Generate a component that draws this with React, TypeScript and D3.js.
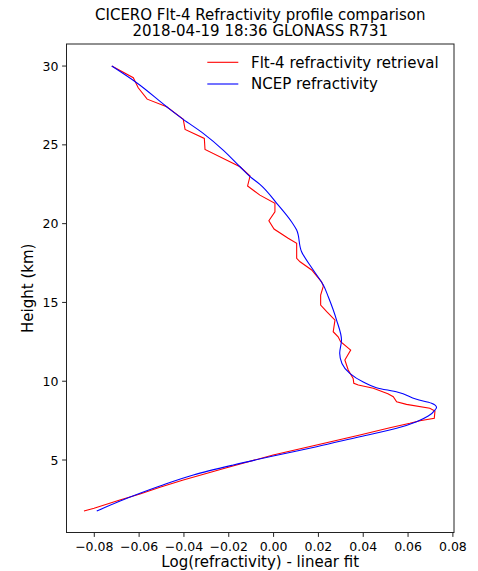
import React from "react";
import * as d3 from "d3";

const titleLines = ["CICERO Flt-4 Refractivity profile comparison", "2018-04-19 18:36 GLONASS R731"];
const seriesNames = ["Flt-4 refractivity retrieval", "NCEP refractivity"];
const seriesColors = ["#ff0000", "#0000ff"];
const xTicks = [-0.08, -0.06, -0.04, -0.02, 0.0, 0.02, 0.04, 0.06, 0.08];
const yTicks = [5, 10, 15, 20, 25, 30];

// Flt-4 retrieval: height (km) and log(refractivity) - linear fit
const retrievalHeight = [
  30.0, 29.26, 28.62, 27.9, 27.42, 26.62, 25.98, 25.41, 24.71, 23.61, 23.02, 22.39, 21.81,
  21.29, 20.75, 20.18, 19.66, 19.07, 18.75, 17.8, 17.58, 17.06, 16.31, 16.04, 15.47, 14.83,
  14.41, 13.88, 13.14, 12.82, 12.51, 11.98, 11.35, 10.71, 10.18, 9.87, 9.76, 9.55, 9.2, 9.02,
  8.7, 8.53, 8.28, 8.11, 7.65, 7.49, 7.33, 7.05, 6.59, 5.95, 5.32, 4.51, 3.73, 3.27, 2.84,
  2.46, 1.94, 1.76,
];
const retrievalValue = [
  -0.0722, -0.0626, -0.0604, -0.0564, -0.0477, -0.0403, -0.0395, -0.0309, -0.0306, -0.015,
  -0.0105, -0.0116, -0.0061, 0.0006, 0.0006, -0.0021, 0.0002, 0.0065, 0.0103, 0.0103, 0.0118,
  0.017, 0.0214, 0.0222, 0.021, 0.021, 0.0237, 0.0274, 0.0266, 0.0288, 0.0299, 0.0344, 0.0318,
  0.0333, 0.0355, 0.0358, 0.0378, 0.0445, 0.051, 0.0534, 0.0549, 0.0593, 0.0697, 0.072, 0.0717,
  0.0653, 0.0608, 0.0519, 0.0385, 0.0192, -0.0002, -0.021, -0.0403, -0.0507, -0.0596, -0.0686,
  -0.0801, -0.0846,
];

// NCEP refractivity
const ncepHeight = [
  30.0, 28.94, 27.42, 26.62, 25.73, 24.67, 23.61, 22.98, 22.49, 21.29, 20.12, 19.59, 18.22,
  17.06, 16.1, 15.36, 13.88, 12.61, 11.77, 11.13, 10.5, 9.95, 9.59, 9.3, 8.85, 8.6, 8.34, 8.17,
  7.79, 7.43, 7.01, 6.48, 5.84, 5.25, 4.68, 4.05, 3.35, 2.89, 2.35, 1.76,
];
const ncepValue = [
  -0.0722, -0.0611, -0.0477, -0.0403, -0.0314, -0.0225, -0.015, -0.0105, -0.0061, 0.0014,
  0.008, 0.0103, 0.0125, 0.0177, 0.0222, 0.0244, 0.0281, 0.0303, 0.0295, 0.0305, 0.034, 0.04,
  0.0459, 0.0555, 0.0638, 0.0705, 0.0727, 0.072, 0.069, 0.0638, 0.0549, 0.0385, 0.0192, -0.0002,
  -0.018, -0.0358, -0.0507, -0.0596, -0.0693, -0.0789,
];

const W = 478;
const H = 571;
const left = 66.5;
const right = 454;
const top = 44;
const bottom = 532.5;
const FONT = "'DejaVu Sans', sans-serif";

export default function App() {
  const x = d3.scaleLinear().domain([-0.0924, 0.0805]).range([left, right]);
  const y = d3.scaleLinear().domain([0.4, 31.4]).range([bottom, top]);

  const line = d3
    .line<[number, number]>()
    .x((d) => x(d[0]))
    .y((d) => y(d[1]));
  const smooth = d3
    .line<[number, number]>()
    .x((d) => x(d[0]))
    .y((d) => y(d[1]))
    .curve(d3.curveMonotoneY);

  const red: [number, number][] = retrievalValue.map((v, i) => [v, retrievalHeight[i]]);
  const blue: [number, number][] = ncepValue
    .map((v, i) => [v, ncepHeight[i]] as [number, number])
    .sort((a, b) => a[1] - b[1]);

  const fmt = (v: number) => {
    const s = Math.abs(v).toFixed(2);
    return (v < -1e-9 ? "\u2212" : "") + s;
  };

  const cx = (left + right) / 2;
  const cy = (top + bottom) / 2;

  return (
    <div style={{ position: "absolute", left: 0, top: 0 }}>
      <svg width={W} height={H} style={{ display: "block", background: "#fff" }} fontFamily={FONT}>
        <rect x={0} y={0} width={W} height={H} fill="#fff" />
        <text x={cx} y={19.5} textAnchor="middle" fontSize={15} fill="#000">
          {titleLines[0]}
        </text>
        <text x={cx} y={36} textAnchor="middle" fontSize={15} fill="#000">
          {titleLines[1]}
        </text>

        <defs>
          <clipPath id="plotclip">
            <rect x={left} y={top} width={right - left} height={bottom - top} />
          </clipPath>
        </defs>

        <g clipPath="url(#plotclip)">
          <path d={line(red) || ""} fill="none" stroke={seriesColors[0]} strokeWidth={1.1} />
          <path d={smooth(blue) || ""} fill="none" stroke={seriesColors[1]} strokeWidth={1.1} />
        </g>

        <rect x={left} y={top} width={right - left} height={bottom - top} fill="none" stroke="#222" strokeWidth={1} />

        {xTicks.map((t) => (
          <g key={"x" + t}>
            <line x1={x(t)} x2={x(t)} y1={bottom} y2={bottom + 4.4} stroke="#222" strokeWidth={1} />
            <text x={x(t)} y={551} textAnchor="middle" fontSize={12.5} fill="#000">
              {fmt(t)}
            </text>
          </g>
        ))}
        {yTicks.map((t) => (
          <g key={"y" + t}>
            <line x1={left - 4.4} x2={left} y1={y(t)} y2={y(t)} stroke="#222" strokeWidth={1} />
            <text x={left - 8} y={y(t)} dy="0.36em" textAnchor="end" fontSize={12.5} fill="#000">
              {t}
            </text>
          </g>
        ))}

        <text x={cx} y={566.5} textAnchor="middle" fontSize={15} fill="#000">
          Log(refractivity) - linear fit
        </text>
        <text
          transform={`translate(33,${cy}) rotate(-90)`}
          textAnchor="middle"
          fontSize={15}
          fill="#000"
        >
          Height (km)
        </text>

        {seriesNames.map((name, i) => {
          const ly = i === 0 ? 62.3 : 84;
          return (
            <g key={name}>
              <line x1={207.3} x2={238.3} y1={ly} y2={ly} stroke={seriesColors[i]} strokeWidth={1.1} />
              <text x={251} y={ly} dy="0.36em" fontSize={15} fill="#000">
                {name}
              </text>
            </g>
          );
        })}
      </svg>
    </div>
  );
}
